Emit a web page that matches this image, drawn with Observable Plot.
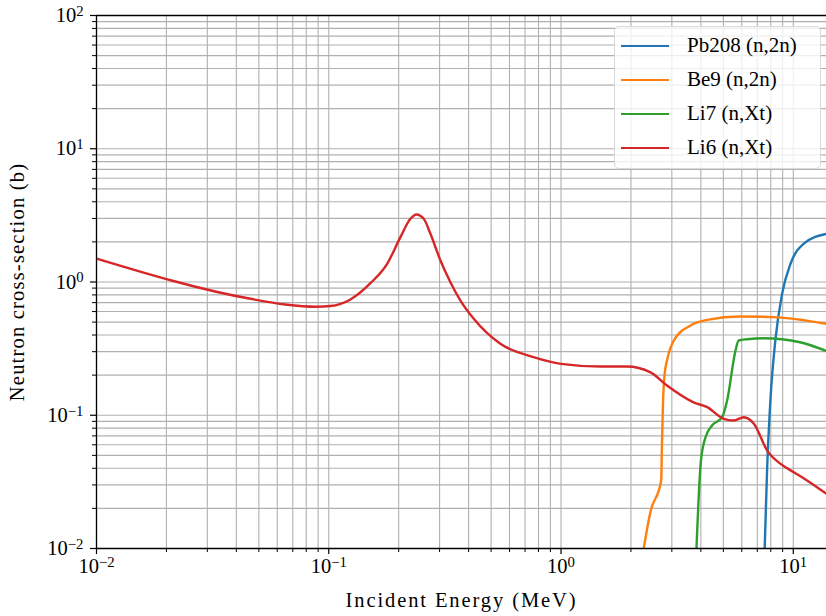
<!DOCTYPE html>
<html><head><meta charset="utf-8">
<script src="https://cdn.jsdelivr.net/npm/d3@7"></script>
<script src="https://cdn.jsdelivr.net/npm/@observablehq/plot@0.6"></script>
<style>
body{margin:0;background:#fff;}
#wrap{position:relative;width:826px;height:616px;}
.legend{position:absolute;left:614px;top:26px;width:207px;height:143px;border:1px solid #d9d9d9;border-radius:5px;background:rgba(255,255,255,0.8);font-family:"Liberation Serif",serif;font-size:21px;color:#000;box-sizing:border-box;}
.legend .row{position:absolute;left:0;height:20px;}
.legend .sw{position:absolute;left:6px;top:9px;width:48px;height:2.4px;}
.legend .lb{position:absolute;left:72px;top:-3px;white-space:nowrap;line-height:24px;}
</style>
</head><body>
<div id="wrap"></div>
<script>
// ---- data ----
const seriesNames = ["Pb208 (n,2n)", "Be9 (n,2n)", "Li7 (n,Xt)", "Li6 (n,Xt)"];
const seriesColors = ["#1f77b4", "#ff7f0e", "#2ca02c", "#d62728"];

const pb208E = [7.53, 7.72, 7.97, 8.37, 8.95, 9.73, 11.1, 13.9];
const pb208S = [0.01, 0.0408, 0.129, 0.364, 0.815, 1.37, 1.94, 2.30];

const be9E = [2.27, 2.43, 2.70, 2.72, 2.75, 2.79, 2.86, 3.06, 3.61, 4.26, 5.92, 8.24, 13.9];
const be9S = [0.01, 0.019, 0.0324, 0.06, 0.129, 0.20, 0.258, 0.364, 0.4716, 0.52, 0.551, 0.545, 0.486];

const li7E = [3.83, 4.0, 4.19, 4.47, 4.94, 5.19, 5.64, 5.82, 6.33, 7.46, 10.7, 13.9];
const li7S = [0.01, 0.045, 0.0684, 0.0838, 0.0967, 0.129, 0.306, 0.364, 0.372, 0.378, 0.353, 0.303];

const li6E = [0.01, 0.046, 0.065, 0.088, 0.1017, 0.124, 0.1512, 0.1784, 0.2035, 0.2247, 0.2384, 0.2564, 0.274, 0.3026, 0.334, 0.369, 0.421, 0.548, 0.762, 1.0, 1.477, 1.92, 2.43, 2.86, 3.72, 4.26, 5.02, 5.53, 6.12, 6.77, 7.72, 8.79, 10.04, 11.46, 13.9];
const li6S = [1.50, 0.748, 0.678, 0.652, 0.66, 0.74, 0.98, 1.37, 2.17, 2.98, 3.21, 2.98, 2.30, 1.45, 0.997, 0.726, 0.53, 0.344, 0.273, 0.243, 0.232, 0.232, 0.21, 0.167, 0.125, 0.115, 0.094, 0.0914, 0.0967, 0.0863, 0.0543, 0.0433, 0.0374, 0.0324, 0.0257];

const xMajor = [0.01, 0.1, 1, 10];
const xMajorLabels = ["10^−2", "10^−1", "10^0", "10^1"];
const yMajor = [0.01, 0.1, 1, 10, 100];
const yMajorLabels = ["10^−2", "10^−1", "10^0", "10^1", "10^2"];
const xTitle = "Incident Energy (MeV)";
const yTitle = "Neutron cross-section (b)";

// ---- build ----
const xDomain = [0.01, 13.9];
const yDomain = [0.01, 100];
function minors(lo, hi) {
  const out = [];
  for (let e = Math.floor(Math.log10(lo)); e <= Math.ceil(Math.log10(hi)); e++)
    for (let k = 1; k <= 9; k++) { const v = k * Math.pow(10, e); if (v >= lo * 0.999 && v <= hi * 1.001) out.push(+v.toPrecision(6)); }
  return out;
}
const xGrid = minors(...xDomain);
const yGrid = minors(...yDomain);
const xMinor = xGrid.filter(v => !xMajor.includes(v));
const yMinor = yGrid.filter(v => !yMajor.includes(v));

const toRows = (E, S) => E.map((e, i) => ({e, s: S[i]}));
const allSeries = [toRows(pb208E, pb208S), toRows(be9E, be9S), toRows(li7E, li7S), toRows(li6E, li6S)];

const fmt = (ticks, labels) => d => { const i = ticks.findIndex(t => Math.abs(t - d) / t < 1e-6); return i >= 0 ? labels[i] : ""; };

const chart = Plot.plot({
  width: 826, height: 616,
  marginLeft: 96, marginRight: 0, marginTop: 15, marginBottom: 68,
  style: {fontFamily: "Liberation Serif, serif", fontSize: "20.5px", color: "#000", background: "#fff"},
  x: {type: "log", domain: xDomain},
  y: {type: "log", domain: yDomain},
  marks: [
    Plot.ruleX(xGrid, {stroke: "#b0b0b0", strokeWidth: 1.1}),
    Plot.ruleY(yGrid, {stroke: "#b0b0b0", strokeWidth: 1.1}),
    ...allSeries.map((rows, i) => Plot.line(rows, {x: "e", y: "s", stroke: seriesColors[i], strokeWidth: 2.4, curve: "monotone-x", clip: true})),
    Plot.axisX({ticks: xMinor, tickSize: 4, tickFormat: () => "", strokeWidth: 1, label: null}),
    Plot.axisX({ticks: xMajor, tickSize: 6, tickPadding: 4, tickFormat: fmt(xMajor, xMajorLabels), strokeWidth: 1.2, label: null, fontSize: 20.5}),
    Plot.axisY({ticks: yMinor, tickSize: 4, tickFormat: () => "", strokeWidth: 1, label: null}),
    Plot.axisY({ticks: yMajor, tickSize: 6, tickPadding: 7, tickFormat: fmt(yMajor, yMajorLabels), strokeWidth: 1.2, label: null, fontSize: 20.5}),
    Plot.text([xTitle], {frameAnchor: "bottom", dy: 58, text: d => d, fontSize: 20.5, lineAnchor: "bottom", textAnchor: "middle", fill: "#000"}),
    Plot.text([yTitle], {frameAnchor: "left", dx: -79, rotate: -90, text: d => d, fontSize: 20.5, lineAnchor: "middle", textAnchor: "middle", fill: "#000"}),
    Plot.ruleX([xDomain[0]], {stroke: "#000", strokeWidth: 1.3}),
    Plot.ruleY([yDomain[0]], {stroke: "#000", strokeWidth: 1.3}),
    Plot.ruleY([yDomain[1]], {stroke: "#000", strokeWidth: 1.3})
  ]
});

// superscript tick labels, letter spacing on titles
const NS = "http://www.w3.org/2000/svg";
chart.querySelectorAll("text").forEach(t => {
  if (t.textContent === xTitle) t.setAttribute("letter-spacing", "1.9");
  if (t.textContent === yTitle) t.setAttribute("letter-spacing", "1.2");
  const m = t.textContent.match(/^10\^(.+)$/);
  if (!m) return;
  while (t.firstChild) t.removeChild(t.firstChild);
  const a = document.createElementNS(NS, "tspan"); a.textContent = "10"; t.appendChild(a);
  const b = document.createElementNS(NS, "tspan"); b.textContent = m[1];
  b.setAttribute("dy", "-0.42em"); b.setAttribute("font-size", "0.72em"); t.appendChild(b);
});

const wrap = document.getElementById("wrap");
wrap.appendChild(chart);

const leg = document.createElement("div");
leg.className = "legend";
seriesNames.forEach((n, i) => {
  const r = document.createElement("div"); r.className = "row"; r.style.top = (9 + i * 34) + "px"; r.style.width = "100%";
  const sw = document.createElement("div"); sw.className = "sw"; sw.style.background = seriesColors[i];
  const lb = document.createElement("div"); lb.className = "lb"; lb.textContent = n;
  r.appendChild(sw); r.appendChild(lb); leg.appendChild(r);
});
wrap.appendChild(leg);
</script>
</body></html>
